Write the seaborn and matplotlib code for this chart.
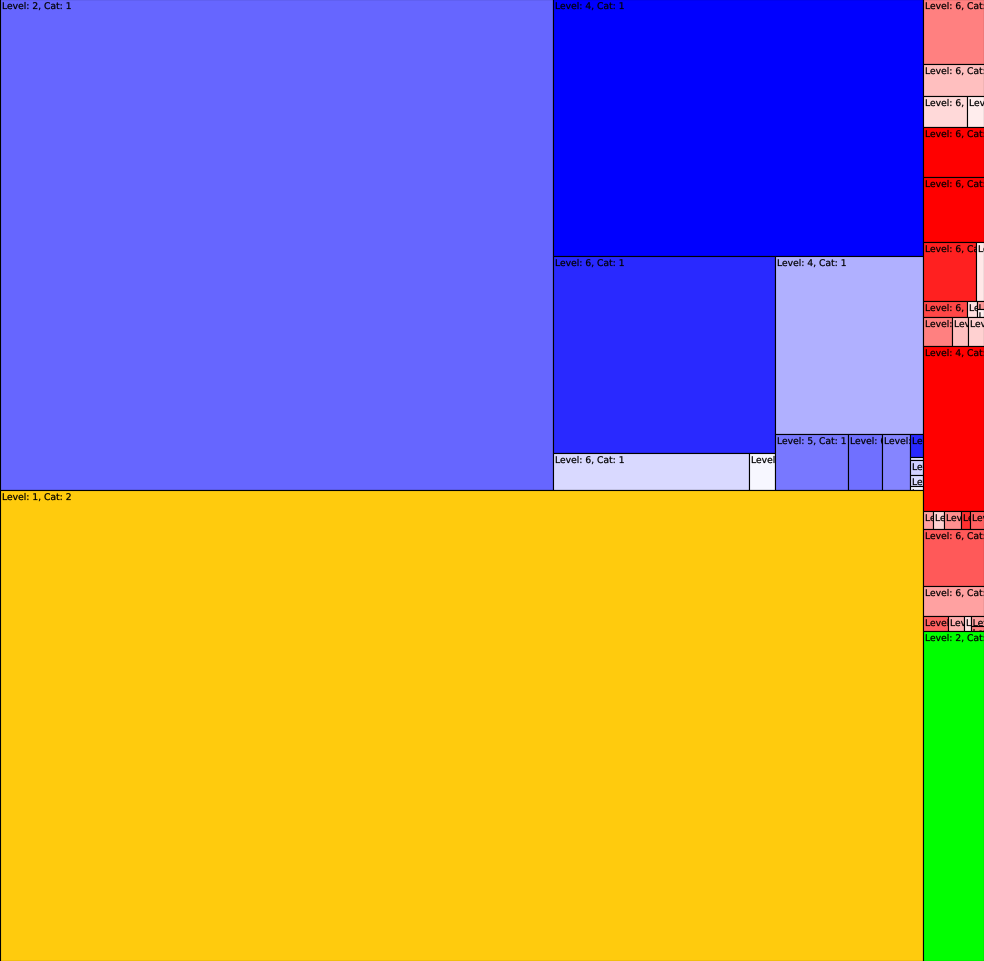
import matplotlib
matplotlib.use("Agg")
import matplotlib.pyplot as plt
import seaborn as sns
from matplotlib.colors import to_rgb
from matplotlib.font_manager import FontProperties
from matplotlib.patches import PathPatch
from matplotlib.textpath import TextPath
from matplotlib.transforms import Affine2D

# --- data: one entry per leaf (group path, size, level, category, tint to white) ---
leaf_group = [
    "c1", "c1/a", "c1/a/c", "c1/a/c", "c1/a/c", "c1/a",
    "c1/a/d", "c1/a/d/n", "c1/a/d/n",
    "c1/a/d/e", "c1/a/d/e", "c1/a/d/e", "c1/a/d/e", "c1/a/d/e",
    "c2",
    "c3", "c3", "c3", "c3", "c3", "c3", "c3/x", "c3/x", "c3",
    "c3/s", "c3/s", "c3/s", "c3/y", "c3/y", "c3/y", "c3",
    "c3/t", "c3/t", "c3/t", "c3/t", "c3/t", "c3", "c3",
    "c3/u", "c3/u", "c3/u", "c3/u", "c3/u",
    "c3",
]
leaf_size = [
    271523, 95090, 43734, 7252, 962, 26344,
    4088, 1904, 1568,
    299, 39, 195, 143, 52,
    434733,
    3965, 1952, 1364, 527, 3050, 3965, 3127, 472, 704,
    153, 60, 59, 841, 464, 464, 10065,
    180, 198, 306, 162, 252, 3477, 1830,
    375, 240, 100, 130, 70,
    20130,
]
leaf_level = [
    2, 4, 6, 6, 5, 4,
    5, 6, 6,
    6, 6, 6, 6, 6,
    1,
    6, 6, 6, 6, 6, 6, 6, 5, 6,
    6, 6, 6, 6, 6, 6, 4,
    6, 6, 5, 6, 6, 6, 6,
    6, 6, 6, 6, 6,
    2,
]
leaf_cat = [1] * 14 + [2] + [3] * 28 + [4]
leaf_tint = [
    0.40, 0.0, 0.16, 0.85, 0.97, 0.69,
    0.47, 0.44, 0.52,
    0.16, 0.90, 0.82, 0.86, 0.95,
    0.05,
    0.50, 0.75, 0.85, 0.93, 0.0, 0.0, 0.125, 0.91, 0.28,
    0.88, 0.60, 0.95, 0.50, 0.75, 0.82, 0.0,
    0.63, 0.82, 0.56, 0.19, 0.38, 0.35, 0.63,
    0.38, 0.69, 0.88, 0.63, 0.50,
    0.0,
]
cat_colors = {1: "#0000ff", 2: "#ffc800", 3: "#ff0000", 4: "#00ff00"}

W, H = 984, 962


# --- ordered squarified layout ---
def layout(sizes, x, y, dx, dy):
    out = []
    if dx >= dy:
        w = sum(sizes) / dy
        for s in sizes:
            out.append((x, y, w, s / w))
            y += s / w
    else:
        h = sum(sizes) / dx
        for s in sizes:
            out.append((x, y, s / h, h))
            x += s / h
    return out


def leftover(sizes, x, y, dx, dy):
    if dx >= dy:
        w = sum(sizes) / dy
        return x + w, y, dx - w, dy
    h = sum(sizes) / dx
    return x, y + h, dx, dy - h


def worst(sizes, x, y, dx, dy):
    return max(max(w / h, h / w) for (_, _, w, h) in layout(sizes, x, y, dx, dy))


def squarify(sizes, x, y, dx, dy):
    if not sizes:
        return []
    if len(sizes) == 1:
        return layout(sizes, x, y, dx, dy)
    i = 1
    while i < len(sizes) and worst(sizes[:i], x, y, dx, dy) >= worst(sizes[:i + 1], x, y, dx, dy):
        i += 1
    lx, ly, ldx, ldy = leftover(sizes[:i], x, y, dx, dy)
    return layout(sizes[:i], x, y, dx, dy) + squarify(sizes[i:], lx, ly, ldx, ldy)


# build tree from group paths
children = {"": []}
for i, g in enumerate(leaf_group):
    parts = g.split("/")
    for k in range(1, len(parts) + 1):
        p = "/".join(parts[:k])
        if p not in children:
            children[p] = []
            children["/".join(parts[:k - 1])].append(("node", p))
    children[g].append(("leaf", i))


def node_size(item):
    kind, ref = item
    if kind == "leaf":
        return leaf_size[ref]
    return sum(node_size(c) for c in children[ref])


rects = {}


def place(path, x, y, dx, dy):
    items = children[path]
    sizes = [node_size(c) for c in items]
    scale = dx * dy / sum(sizes)
    boxes = squarify([s * scale for s in sizes], x, y, dx, dy)
    for item, b in zip(items, boxes):
        if item[0] == "leaf":
            rects[item[1]] = b
        else:
            place(item[1], *b)


place("", 0, 0, W, H)

sns.set_style("white")
plt.rcParams["font.family"] = ["DejaVu Sans"]

fig = plt.figure(figsize=(W / 100, H / 100), dpi=100)
ax = fig.add_axes([0, 0, 1, 1])
ax.set_xlim(0, W)
ax.set_ylim(H, 0)
ax.set_axis_off()

idx = sorted(rects)
xs = [rects[i][0] for i in idx]
ys = [rects[i][1] for i in idx]
ws = [rects[i][2] for i in idx]
hs = [rects[i][3] for i in idx]
cols = []
for i in idx:
    base = to_rgb(cat_colors[leaf_cat[i]])
    t = leaf_tint[i]
    cols.append(tuple(c * (1 - t) + t for c in base))

bars = ax.bar(xs, hs, width=ws, bottom=ys, align="edge", color=cols,
              edgecolor="black", linewidth=0.8, clip_on=False)

# labels drawn as paths so they can be clipped to their own tile
fp = FontProperties(family="DejaVu Sans")
for i, bar in zip(idx, bars.patches):
    x, y, w, h = rects[i]
    label = f"Level: {leaf_level[i]}, Cat: {leaf_cat[i]}"
    tp = TextPath((0, 0), label, size=9.2, prop=fp)
    path = Affine2D().scale(1, -1).translate(x + 2, y + 10).transform_path(tp)
    pp = PathPatch(path, facecolor="black", edgecolor="black", lw=0.15)
    ax.add_patch(pp)
    pp.set_clip_path(bar)

fig.savefig("out.png", dpi=100, facecolor="white")
